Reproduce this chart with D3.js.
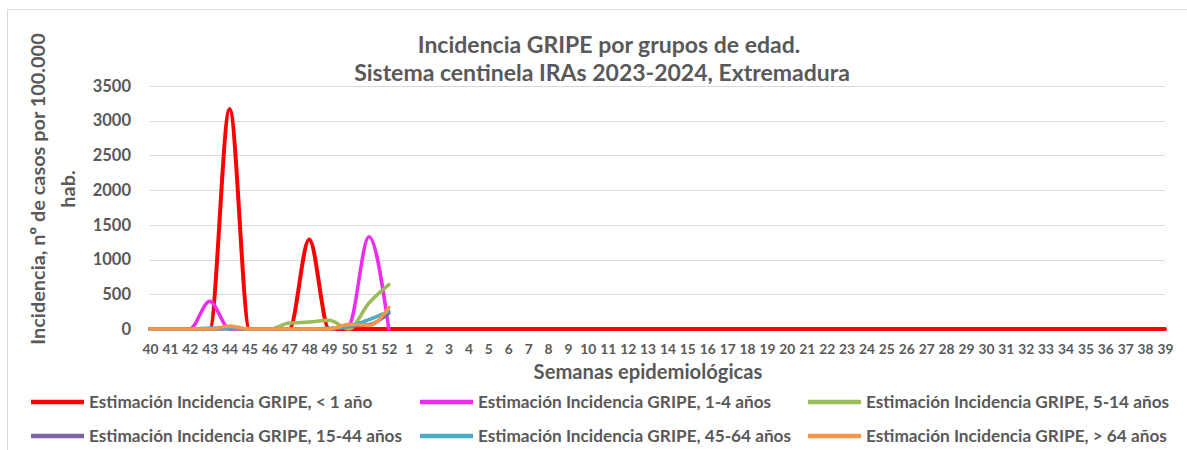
<!DOCTYPE html>
<html><head><meta charset="utf-8">
<script src="https://cdn.jsdelivr.net/npm/d3@7"></script>
<style>body{margin:0;background:#fff}svg{display:block}text{font-family:Lato,"Open Sans",sans-serif;font-weight:bold;fill:#595959}</style>
</head><body><svg id="c" width="1187" height="450"></svg>
<script>
const weeks = ["40","41","42","43","44","45","46","47","48","49","50","51","52","1","2","3","4","5","6","7","8","9","10","11","12","13","14","15","16","17","18","19","20","21","22","23","24","25","26","27","28","29","30","31","32","33","34","35","36","37","38","39"];
const yTicks = [0,500,1000,1500,2000,2500,3000,3500];
const seriesNames = ["Estimación Incidencia GRIPE, < 1 año","Estimación Incidencia GRIPE, 1-4 años","Estimación Incidencia GRIPE, 5-14 años","Estimación Incidencia GRIPE, 15-44 años","Estimación Incidencia GRIPE, 45-64 años","Estimación Incidencia GRIPE, > 64 años"];
const seriesColors = ["#FF0000","#EE2BEE","#9BBB59","#8064A2","#4BACC6","#F79646"];
const lt1   = [0,0,0,0,3170,0,0,0,1290,0,0,0,0,0,0,0,0,0,0,0,0,0,0,0,0,0,0,0,0,0,0,0,0,0,0,0,0,0,0,0,0,0,0,0,0,0,0,0,0,0,0,0];
const a1_4  = [0,0,0,400,0,0,0,0,0,0,60,1330,0];
const a5_14 = [0,0,0,0,10,0,0,85,100,125,0,375,640];
const a15_44= [0,0,0,0,5,0,0,0,0,0,40,60,230];
const a45_64= [0,0,0,15,15,0,0,0,0,10,40,135,255];
const a65   = [0,0,0,0,45,0,0,0,0,0,70,50,310];
const seriesValues = [lt1,a1_4,a5_14,a15_44,a45_64,a65];

const svg = d3.select("#c");
svg.append("rect").attr("x",7.5).attr("y",9.5).attr("width",1200).attr("height",460)
  .attr("fill","#fff").attr("stroke","#d9d9d9").attr("stroke-width",1);

const x = d3.scalePoint().domain(weeks).range([150,1165]).padding(0);
const y = d3.scaleLinear().domain([0,3500]).range([329,86]);

// gridlines
svg.append("g").selectAll("line").data(yTicks.filter(d=>d>0)).join("line")
  .attr("x1",150).attr("x2",1165).attr("y1",d=>Math.round(y(d))+0.5).attr("y2",d=>Math.round(y(d))+0.5)
  .attr("stroke","#d9d9d9").attr("stroke-width",1.2);

// y axis
const ya = svg.append("g").attr("transform","translate(136,0)")
  .call(d3.axisLeft(y).tickValues(yTicks).tickFormat(d3.format("d")).tickSize(0).tickPadding(5));
ya.select(".domain").remove();
ya.selectAll("text").attr("font-size",16.5).style("fill","#595959").attr("font-family","Lato").attr("font-weight","bold");

// x axis
const xa = svg.append("g").attr("transform","translate(0,344)")
  .call(d3.axisBottom(x).tickSize(0).tickPadding(0));
xa.select(".domain").remove();
xa.selectAll("text").attr("font-size",13.8).attr("dy","0.71em").style("fill","#595959").attr("font-family","Lato").attr("font-weight","bold");

// lines
const line = d3.line().x((d,i)=>x(weeks[i])).y(d=>y(d)).curve(d3.curveMonotoneX);
seriesValues.forEach((vals,k)=>{
  svg.append("path").datum(vals).attr("d",line).attr("fill","none")
    .attr("stroke",seriesColors[k]).attr("stroke-width",k===0?4:3.5)
    .attr("stroke-linejoin","round").attr("stroke-linecap","round");
});

// titles
svg.append("text").attr("x",609).attr("y",53).attr("text-anchor","middle").attr("font-size",23).text("Incidencia GRIPE por grupos de edad.");
svg.append("text").attr("x",602).attr("y",81).attr("text-anchor","middle").attr("font-size",23).text("Sistema centinela IRAs 2023-2024, Extremadura");
svg.append("text").attr("x",648).attr("y",379).attr("text-anchor","middle").attr("font-size",20.2).text("Semanas epidemiológicas");
svg.append("text").attr("transform","translate(45,189) rotate(-90)").attr("text-anchor","middle").attr("font-size",19.9).text("Incidencia, nº de casos por 100.000");
svg.append("text").attr("transform","translate(75,189) rotate(-90)").attr("text-anchor","middle").attr("font-size",19.9).text("hab.");

// legend
const colX = [31,420,808], rowY = [402,436];
seriesNames.forEach((n,k)=>{
  const cx = colX[k%3], cy = rowY[Math.floor(k/3)];
  svg.append("line").attr("x1",cx).attr("x2",cx+53).attr("y1",cy).attr("y2",cy)
    .attr("stroke",seriesColors[k]).attr("stroke-width",4.5);
  svg.append("text").attr("x",cx+58).attr("y",cy).attr("dy","0.35em").attr("font-size",17.2).text(n);
});
</script></body></html>
